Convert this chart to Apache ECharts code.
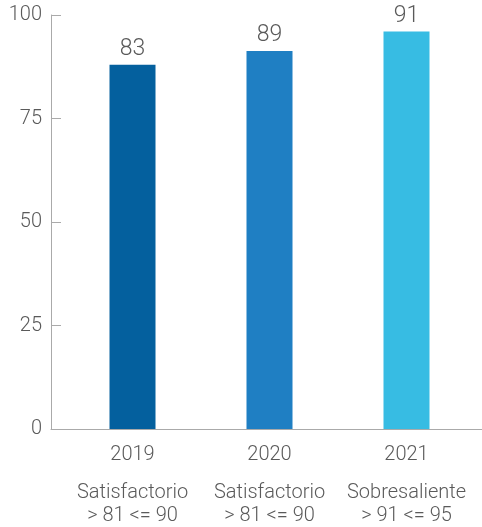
<!DOCTYPE html>
<html>
<head>
<meta charset="utf-8">
<script src="https://cdn.jsdelivr.net/npm/echarts@6/dist/echarts.min.js"></script>
<style>html,body{margin:0;padding:0;background:#fff}#c{width:482px;height:527px}</style>
</head>
<body>
<div id="c"></div>
<script>
const years = ['2019', '2020', '2021'];
const ratings = ['Satisfactorio', 'Satisfactorio', 'Sobresaliente'];
const ranges = ['> 81 <= 90', '> 81 <= 90', '> 91 <= 95'];
const barValues = [88, 91.3, 96];
const valueLabels = ['83', '89', '91'];
const barColors = ['#04609E', '#1F7FC3', '#37BCE3'];
const yTicks = [0, 25, 50, 75, 100];

const FONT = 'Roboto';
const WEIGHT = 300;
const GRAY = '#5a5a5a';
const chart = echarts.init(document.getElementById('c'), null, {renderer: 'canvas'});
chart.setOption({
  animation: false,
  grid: [
    {left: 51, right: 0, top: 15, bottom: 98},
    {left: 64, right: 7, top: 15, bottom: 98}
  ],
  xAxis: [
    {type: 'category', gridIndex: 0, data: years,
     axisLine: {lineStyle: {color: '#aaaaaa', width: 1}},
     axisTick: {show: false}, axisLabel: {show: false}},
    {type: 'category', gridIndex: 1, data: years.map((y, i) => y + '|' + i),
     axisLine: {show: false}, axisTick: {show: false},
     axisLabel: {
       margin: 14,
       interval: 0,
       formatter: function (v) {
         const i = +v.split('|')[1];
         return '{a|' + years[i] + '}\n{s|}\n{b|' + ratings[i] + '}\n{b|' + ranges[i] + '}';
       },
       rich: {
         a: {fontFamily: FONT, fontWeight: WEIGHT, fontSize: 20, color: GRAY, lineHeight: 24},
         s: {lineHeight: 14, height: 14},
         b: {fontFamily: FONT, fontWeight: WEIGHT, fontSize: 20, color: GRAY, lineHeight: 23}
       }
     }}
  ],
  yAxis: [
    {type: 'value', gridIndex: 0, min: 0, max: 100, interval: 25,
     axisLine: {show: true, lineStyle: {color: '#aaaaaa', width: 1}},
     axisTick: {show: true, inside: true, length: 10, lineStyle: {color: '#aaaaaa'}},
     splitLine: {show: false},
     axisLabel: {fontFamily: FONT, fontWeight: WEIGHT, fontSize: 20, color: GRAY, margin: 9,
                 customValues: yTicks}},
    {type: 'value', gridIndex: 1, min: 0, max: 100, show: false}
  ],
  series: [{
    type: 'bar',
    xAxisIndex: 1, yAxisIndex: 1,
    barWidth: 46,
    data: barValues.map((v, i) => ({value: v, itemStyle: {color: barColors[i]}})),
    label: {
      show: true, position: 'top', distance: 4,
      fontFamily: FONT, fontWeight: WEIGHT, fontSize: 23, color: GRAY,
      formatter: p => valueLabels[p.dataIndex]
    }
  }]
});
</script>
</body>
</html>
